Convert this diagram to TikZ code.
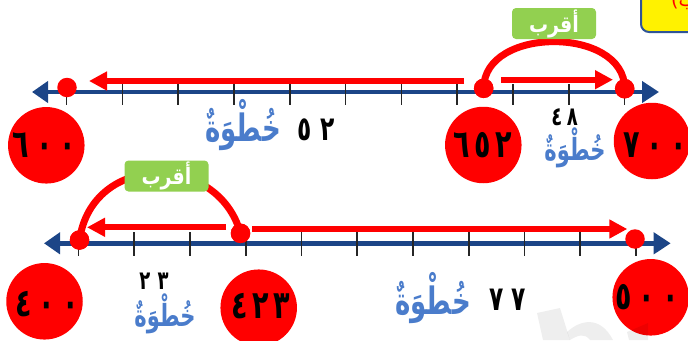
\documentclass[tikz,border=0pt]{standalone}
\usepackage{fontspec}
\TeXXeTstate=1
\newfontfamily\arabicfont[Script=Arabic]{DejaVu Sans}
\usetikzlibrary{arrows.meta}
\definecolor{axisblue}{HTML}{1C4587}
\definecolor{wordblue}{HTML}{4A7CCB}
\definecolor{labelgreen}{HTML}{92D050}
\definecolor{boxblue}{HTML}{2F5597}
\newcommand{\tallword}[1]{\scalebox{1}[1.45]{\beginR خُطْوَةٌ\endR}}
\newcommand{\talldig}[1]{\scalebox{.9}[1.3]{#1}}
\newcommand{\nearword}{\scalebox{1}[1.2]{\beginR أقرب\endR}}
\newcommand{\gapa}{\hspace{5pt}}
\newcommand{\gapb}{\hspace{8pt}}
\tikzset{
 x=1pt,y=-1pt,
 axis/.style={draw=axisblue,line width=4.5pt,{Triangle[length=16pt,width=21pt]}-{Triangle[length=17pt,width=21pt]},axisblue},
 tickmark/.style={draw=black!85,line width=1.6pt},
 jump/.style={draw=red,line width=6pt,-{Triangle[length=18pt,width=18pt]},red},
 hump/.style={draw=red,line width=7pt},
 dotmark/.style={circle,fill=red,minimum size=19.5pt,inner sep=0pt},
 bigdisc/.style={circle,fill=red,minimum size=76.5pt,inner sep=0pt},
 bignum/.style={inner sep=0pt,font=\arabicfont\bfseries\fontsize{30}{30}\selectfont,text=black},
 closer/.style={fill=labelgreen,rounded corners=4pt,minimum width=84pt,minimum height=31pt,inner sep=0pt,text=white,font=\arabicfont\bfseries\fontsize{19}{19}\selectfont},
 stepword/.style={text=wordblue,inner sep=0pt,font=\arabicfont\bfseries\fontsize{26}{26}\selectfont},
 smallword/.style={text=wordblue,inner sep=0pt,font=\arabicfont\bfseries\fontsize{21}{21}\selectfont},
 stepnum/.style={text=black,inner sep=0pt,font=\arabicfont\bfseries\fontsize{26}{26}\selectfont},
 smallnum/.style={text=black,inner sep=0pt,font=\arabicfont\bfseries\fontsize{20}{20}\selectfont},
 ghost/.style={fill=black,fill opacity=.065,draw=none},
}
\begin{document}
\begin{tikzpicture}
\useasboundingbox (0,0) rectangle (688,340);
\clip (0,0) rectangle (688,340);
% yellow box
\draw[draw=boxblue,line width=2pt,fill=yellow,rounded corners=8pt] (641,-20) rectangle (710,32);
\node[anchor=west,text=red,font=\arabicfont\fontsize{19}{19}\selectfont,inner sep=0pt] (corner) at (671,1) {\beginR ب)\endR};
% top line
\coordinate (a1) at (32,92); \coordinate (a2) at (659,92);
\draw[axis] (a1) -- (a2);
\foreach \i in {0,...,10} \draw[tickmark] ({66.5+55.8*\i},84) -- ({66.5+55.8*\i},105);
\node[dotmark] (d600) at (67,87.5) {};
\node[dotmark] (d652) at (483.7,88.3) {};
\node[dotmark] (d700) at (624.7,88.7) {};
\coordinate (s1) at (464,81); \coordinate (e1) at (89,81);
\draw[jump] (s1) -- (e1);
\coordinate (s2) at (501,79.7); \coordinate (e2) at (613,79.7);
\draw[jump] (s2) -- (e2);
\draw[hump] (d652.center) .. controls (d652.center |- 0,26) and (d700.center |- 0,26) .. (d700.center);
\node[dotmark] at (d652) {}; \node[dotmark] at (d700) {};
\node[closer] (near1) at (554,23.5) {\nearword};
\node[bigdisc] (n600) at (46.3,145.3) {};
\node[bigdisc] (n652) at (483.3,145) {};
\node[bigdisc] (n700) at (652,141) {};
\node[bignum] (t600) at (44.5,145) {\talldig{٦\gapb٠\gapb٠}};
\node[bignum] (t652) at (482.5,145) {\talldig{٦\gapa٥\gapa٢}};
\node[bignum] (t700) at (655,145) {\talldig{٧\gapb٠\gapb٠}};
\node[stepword] (w52) at (243,125) {\tallword{}};
\node[stepnum] (c52) at (316.5,129.5) {\talldig{٥\hspace{10pt}٢}};
\node[smallnum] (c48) at (564.5,117) {\talldig{٤\hspace{5pt}٨}};
\node[smallword] (w48) at (575,148) {\tallword{}};
% bottom line
\coordinate (b1) at (44,243.3); \coordinate (b2) at (670.7,243.3);
\draw[axis] (b1) -- (b2);
\foreach \i in {0,...,10} \draw[tickmark] ({78.5+55.75*\i},232) -- ({78.5+55.75*\i},256);
\node[dotmark] (d400) at (79.5,240) {};
\node[dotmark] (d423) at (240.5,233.3) {};
\node[dotmark] (d500) at (635,239) {};
\coordinate (s3) at (226,227.3); \coordinate (e3) at (87,227.3);
\draw[jump] (s3) -- (e3);
\coordinate (s4) at (252.3,229); \coordinate (e4) at (627.3,229);
\draw[jump] (s4) -- (e4);
\draw[hump] (d400.center) .. controls (92,152) and (218,152) .. (d423.center);
\node[dotmark] at (d400) {}; \node[dotmark] at (d423) {};
\node[closer] (near2) at (166.5,176) {\nearword};
\node[bigdisc] (n400) at (44.5,301.3) {};
\node[bigdisc] (n423) at (258.7,307.7) {};
\node[bigdisc] (n500) at (650.7,297.3) {};
\node[bignum] (t400) at (47,304) {\talldig{٤\gapb٠\gapb٠}};
\node[bignum] (t423) at (261,305.6) {\talldig{٤\gapa٢\gapa٣}};
\node[bignum] (t500) at (647,297) {\talldig{٥\gapb٠\gapb٠}};
\node[smallnum] (c23) at (154,281) {\talldig{٢\hspace{8pt}٣}};
\node[smallword] (w23) at (165,314) {\tallword{}};
\node[stepword] (w77) at (433,298) {\tallword{}};
\node[stepnum] (c77) at (507.5,300) {\talldig{٧\hspace{8pt}٧}};
% faint watermark
\fill[ghost] (537,313) -- (560,308) -- (570,340) -- (543,340) -- cycle;
\fill[ghost] (567,332) .. controls (580,320) and (600,315) .. (613,340) -- (590,340) .. controls (585,333) and (578,335) .. (570,340) -- cycle;
\fill[ghost] (627,332) -- (648,323) -- (648,340) -- (629,340) -- cycle;
\end{tikzpicture}
\end{document}
